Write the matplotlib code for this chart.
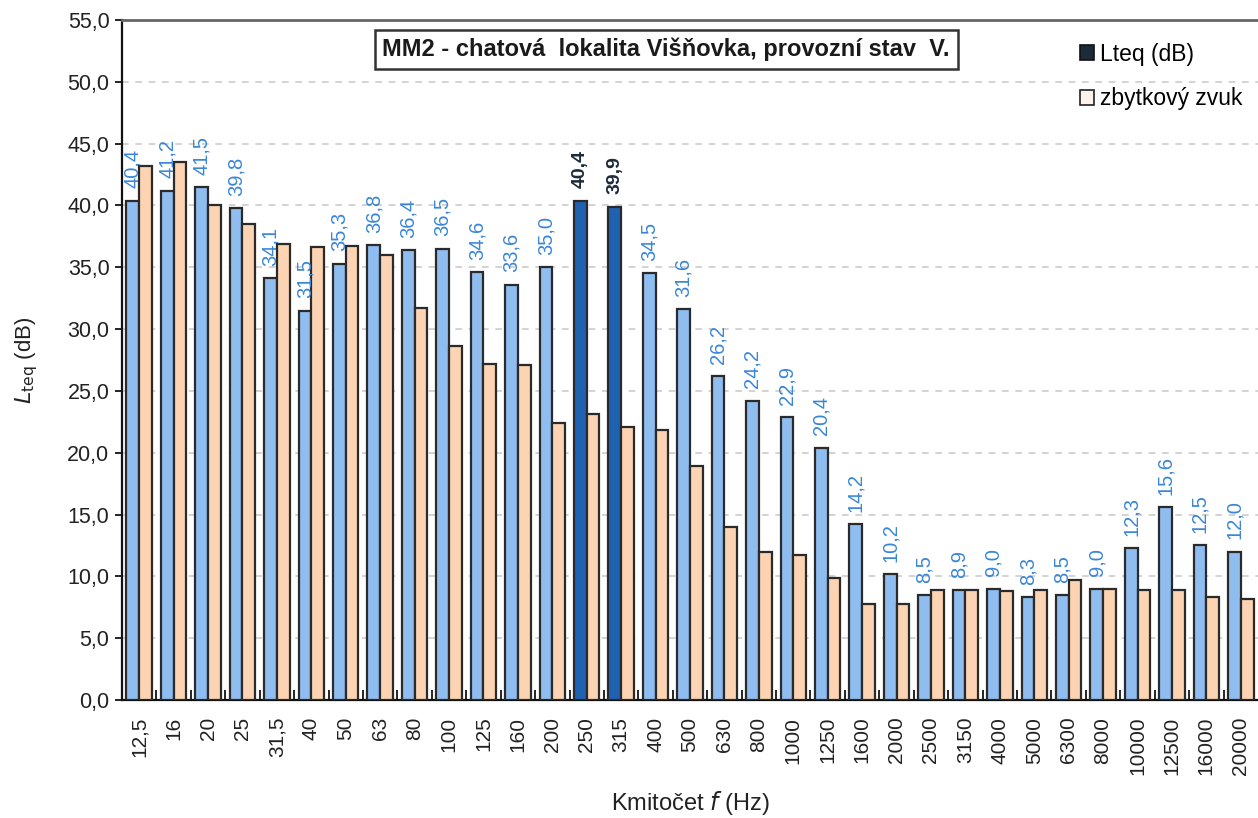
import numpy as np
from matplotlib import pyplot as plt
from matplotlib.patches import Patch

plt.rcParams['font.family'] = ['Liberation Sans', 'DejaVu Sans']

freqs = ['12,5', '16', '20', '25', '31,5', '40', '50', '63', '80', '100', '125',
         '160', '200', '250', '315', '400', '500', '630', '800', '1000', '1250',
         '1600', '2000', '2500', '3150', '4000', '5000', '6300', '8000', '10000',
         '12500', '16000', '20000']
lteq = [40.4, 41.2, 41.5, 39.8, 34.1, 31.5, 35.3, 36.8, 36.4, 36.5, 34.6,
        33.6, 35.0, 40.4, 39.9, 34.5, 31.6, 26.2, 24.2, 22.9, 20.4,
        14.2, 10.2, 8.5, 8.9, 9.0, 8.3, 8.5, 9.0, 12.3,
        15.6, 12.5, 12.0]
zbytkovy = [43.2, 43.5, 40.0, 38.5, 36.9, 36.6, 36.7, 36.0, 31.7, 28.6, 27.2,
            27.1, 22.4, 23.1, 22.1, 21.8, 18.9, 14.0, 12.0, 11.7, 9.9,
            7.8, 7.8, 8.9, 8.9, 8.8, 8.9, 9.7, 9.0, 8.9,
            8.9, 8.3, 8.2]
highlight = ['250', '315']

x = np.arange(len(freqs))
w = 0.37

fig = plt.figure(figsize=(12.58, 8.18), dpi=100)
ax = fig.add_axes([122 / 1258, 118 / 818, 1136 / 1258, 680 / 818])

blue_c = ['#1f62b2' if f in highlight else '#8fbdf0' for f in freqs]
ax.bar(x - w / 2, lteq, w, color=blue_c, edgecolor='#2a2a2a', linewidth=1.6, zorder=3)
ax.bar(x + w / 2, zbytkovy, w, color='#fcd3b3', edgecolor='#2a2a2a', linewidth=1.6, zorder=3)

# value labels above the Lteq bars
for xi, v, f in zip(x, lteq, freqs):
    s = f'{v:.1f}'.replace('.', ',')
    if f in highlight:
        ax.text(xi - w / 2, v + 1.0, s, rotation=90, ha='center', va='bottom',
                fontsize=14, color='#1c2a3a', fontweight='bold', zorder=4)
    else:
        ax.text(xi - w / 2, v + 1.0, s, rotation=90, ha='center', va='bottom',
                fontsize=14.5, color='#3a86d8', zorder=4)

ax.set_xlim(-0.5, len(freqs) - 0.5)
ax.set_ylim(0, 55)
ax.set_yticks(np.arange(0, 56, 5))
ax.set_yticklabels([f'{v:.1f}'.replace('.', ',') for v in np.arange(0, 56, 5)],
                   fontsize=15.5, color='#222222')
ax.set_xticks(x)
ax.set_xticklabels(freqs, rotation=90, fontsize=15, color='#222222')
ax.tick_params(axis='x', length=0, pad=12)
ax.tick_params(axis='y', length=5, direction='out', width=1.2, pad=4)
ax.set_xticks(x[:-1] + 0.5, minor=True)
ax.tick_params(axis='x', which='minor', direction='in', length=7, width=1.2)

ax.yaxis.grid(True, linestyle=(0, (4, 4)), color='#cccccc', linewidth=1.2, zorder=0)
ax.set_axisbelow(True)

ax.spines['left'].set_color('#111111')
ax.spines['left'].set_linewidth(1.6)
ax.spines['bottom'].set_color('#111111')
ax.spines['bottom'].set_linewidth(1.6)
ax.spines['top'].set_color('#666666')
ax.spines['top'].set_linewidth(2)
ax.spines['right'].set_visible(False)

ax.set_xlabel('Kmitočet $\\it{f}$ (Hz)', fontsize=17, color='#222222', labelpad=10)
ax.set_ylabel('$\\it{L}_{\\rm teq}$ (dB)', fontsize=16, color='#222222', labelpad=20)

ax.text(0.479, 0.957, 'MM2 - chatová  lokalita Višňovka, provozní stav  V.',
        transform=ax.transAxes, ha='center', va='center', fontsize=17,
        fontweight='bold', color='#1a1a1a',
        bbox=dict(boxstyle='square,pad=0.33', facecolor='white',
                  edgecolor='#333333', linewidth=1.8), zorder=5)

handles = [Patch(facecolor='#1d2a3a', edgecolor='#111111', linewidth=1.2),
           Patch(facecolor='#fdf3ea', edgecolor='#222222', linewidth=1.2)]
ax.legend(handles, ['Lteq (dB)', 'zbytkový zvuk'], loc='upper left',
          bbox_to_anchor=(0.825, 0.997), frameon=False, fontsize=16.5,
          handlelength=0.6, handleheight=0.6, handletextpad=0.3, labelspacing=0.95)

fig.savefig('out.png', dpi=100)
